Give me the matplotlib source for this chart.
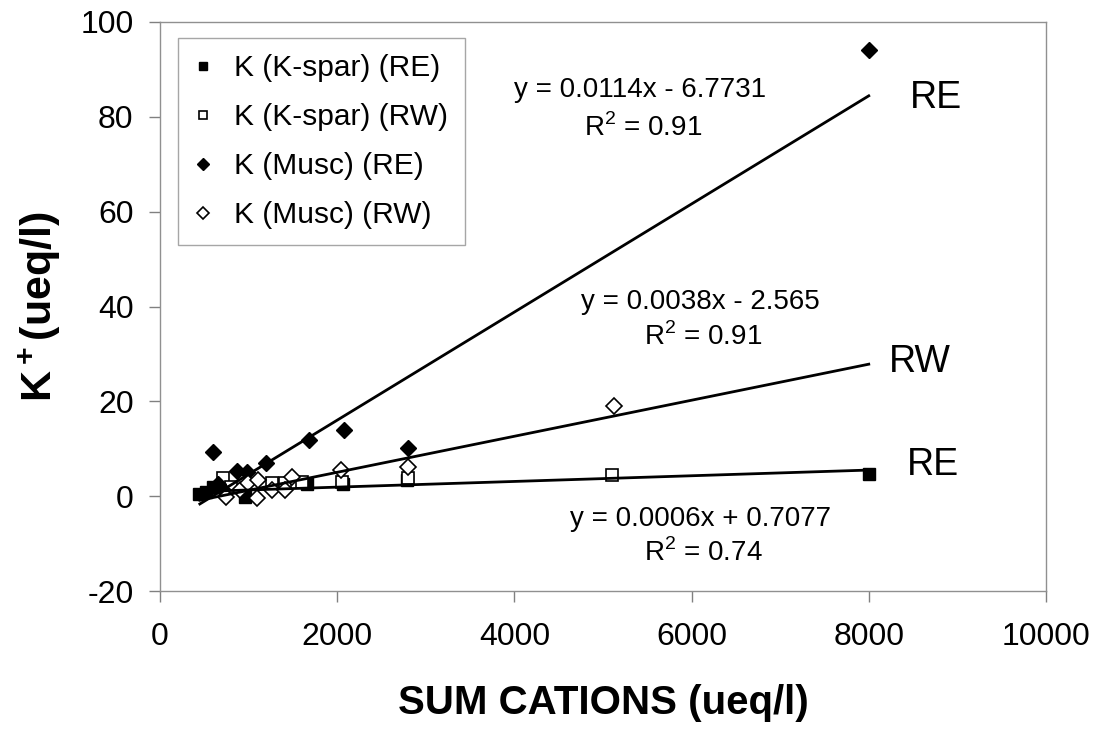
import matplotlib.pyplot as plt
import numpy as np

plt.rcParams['font.family'] = ['Liberation Sans', 'DejaVu Sans']
plt.rcParams['mathtext.fontset'] = 'custom'
plt.rcParams['mathtext.rm'] = 'Liberation Sans'
plt.rcParams['mathtext.bf'] = 'Liberation Sans:bold'
plt.rcParams['axes.unicode_minus'] = False

# K-feldspar weathering, river east (RE) and river west (RW)
kspar_re_x = [440, 520, 600, 960, 1660, 2070, 2790, 8000]
kspar_re_y = [0.5, 0.8, 2.0, -0.2, 2.5, 2.6, 3.4, 4.7]
kspar_rw_x = [710, 800, 1260, 1410, 1600, 2060, 2800, 5100]
kspar_rw_y = [3.8, 2.0, 2.8, 2.8, 3.0, 3.0, 3.8, 4.5]

# muscovite weathering
musc_re_x = [600, 650, 700, 870, 980, 1200, 1680, 2080, 2800, 8000]
musc_re_y = [9.3, 2.5, 1.5, 5.3, 5.1, 7.0, 11.8, 14.0, 10.2, 94.1]
musc_rw_x = [750, 900, 990, 1090, 1110, 1260, 1410, 1490, 2040, 2800, 5120]
musc_rw_y = [-0.1, 1.3, 2.8, -0.4, 3.4, 1.3, 1.3, 4.1, 5.5, 6.2, 19.0]

# linear trendlines (slope, intercept) as printed on the chart
trend_x = [450, 8000]
trend_coefs = [(0.0114, -6.7731), (0.0038, -2.565), (0.0006, 0.7077)]
trend_eqs = ['y = 0.0114x - 6.7731', 'y = 0.0038x - 2.565', 'y = 0.0006x + 0.7077']
trend_r2 = ['0.91', '0.91', '0.74']
trend_names = ['RE', 'RW', 'RE']

fig = plt.figure(figsize=(10.98, 7.33), dpi=100)
ax = fig.add_axes([0.1457, 0.1937, 0.8069, 0.7763])

ax.plot(kspar_re_x, kspar_re_y, ls='none', marker='s', ms=8, mfc='black', mec='black',
        label='K (K-spar) (RE)')
ax.plot(kspar_rw_x, kspar_rw_y, ls='none', marker='s', ms=8, mfc='white', mec='black',
        mew=1.2, label='K (K-spar) (RW)')
ax.plot(musc_re_x, musc_re_y, ls='none', marker='D', ms=8, mfc='black', mec='black',
        label='K (Musc) (RE)')
ax.plot(musc_rw_x, musc_rw_y, ls='none', marker='D', ms=8, mfc='white', mec='black',
        mew=1.2, label='K (Musc) (RW)')

tx = np.array(trend_x, dtype=float)
for a, b in trend_coefs:
    ax.plot(tx, a * tx + b, color='black', lw=2)

# equation labels
eq_pos = [(5420, 85.6, 77.6), (6100, 40.9, 33.6), (6100, -4.8, -12.0)]
for (x, y1, y2), eq, r2 in zip(eq_pos, trend_eqs, trend_r2):
    ax.text(x, y1, eq, ha='center', va='center', fontsize=20)
    ax.text(x + 30, y2, 'R$^2$ = ' + r2, ha='center', va='center', fontsize=20)

name_pos = [(8460, 84.0), (8230, 28.3), (8430, 6.6)]
for (x, y), name in zip(name_pos, trend_names):
    ax.text(x, y, name, ha='left', va='center', fontsize=27)

ax.set_xlim(0, 10000)
ax.set_ylim(-20, 100)
ax.set_xticks(np.arange(0, 10001, 2000))
ax.set_yticks(np.arange(-20, 101, 20))
ax.tick_params(direction='out', length=8, width=1, color='#808080',
               labelsize=23)
ax.tick_params(axis='x', pad=14)
ax.tick_params(axis='y', pad=11)
for s in ax.spines.values():
    s.set_color('#909090')
    s.set_linewidth(1)

ax.set_xlabel('SUM CATIONS (ueq/l)', fontsize=29, fontweight='bold')
ax.set_ylabel(r'$\mathbf{K^+}$(ueq/l)', fontsize=31, fontweight='bold')
ax.xaxis.set_label_coords(0.5, -0.163)
ax.yaxis.set_label_coords(-0.11, 0.5)

leg = ax.legend(loc='upper left', bbox_to_anchor=(0.02, 0.972), borderaxespad=0,
                fontsize=21.5, markerscale=0.75, frameon=True, fancybox=False,
                handlelength=0.6, handletextpad=0.75, labelspacing=0.7,
                borderpad=0.55)
leg.get_frame().set_edgecolor('#909090')
leg.get_frame().set_linewidth(1)

fig.savefig('out.png', dpi=100)
